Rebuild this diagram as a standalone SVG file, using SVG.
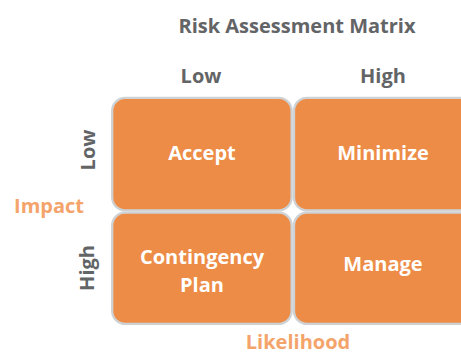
<svg xmlns="http://www.w3.org/2000/svg" width="461" height="354" viewBox="0 0 461 354">
  <style>
    text { font-family: "Open Sans", "Liberation Sans", sans-serif; font-weight: 700; font-size: 20px; text-anchor: middle; }
    .title { fill: #636466; }
    .axis { fill: #636466; }
    .dim { fill: #F4A46B; }
    .cell rect { fill: #ED8C46; stroke: #CED2D5; stroke-width: 2.3; }
    .cell text { fill: #FFFFFF; }
  </style>
  <rect width="461" height="354" fill="#FFFFFF"/>

  <text class="title" x="297" y="33">Risk Assessment Matrix</text>

  <!-- column headings (likelihood) -->
  <g id="col-low"><text class="axis" x="201" y="83">Low</text></g>
  <g id="col-high"><text class="axis" x="383" y="83">High</text></g>

  <!-- row headings (impact) -->
  <g id="row-low"><text class="axis" transform="translate(95 150) rotate(-90)">Low</text></g>
  <g id="row-high"><text class="axis" transform="translate(94 268) rotate(-90)">High</text></g>

  <text class="dim" x="49" y="213">Impact</text>
  <text class="dim" x="298" y="348.5">Likelihood</text>

  <!-- quadrants -->
  <g id="accept" class="cell">
    <rect x="112.2" y="97.8" width="179.4" height="112.6" rx="13"/>
    <text x="202" y="160">Accept</text>
  </g>
  <g id="minimize" class="cell">
    <rect x="294" y="97.8" width="179.4" height="112.6" rx="13"/>
    <text x="383" y="160">Minimize</text>
  </g>
  <g id="contingency-plan" class="cell">
    <rect x="112.2" y="212.6" width="179.4" height="111.3" rx="13"/>
    <text x="202" y="264">Contingency</text>
    <text x="202" y="292">Plan</text>
  </g>
  <g id="manage" class="cell">
    <rect x="294" y="212.6" width="179.4" height="111.3" rx="13"/>
    <text x="383" y="271">Manage</text>
  </g>
</svg>
